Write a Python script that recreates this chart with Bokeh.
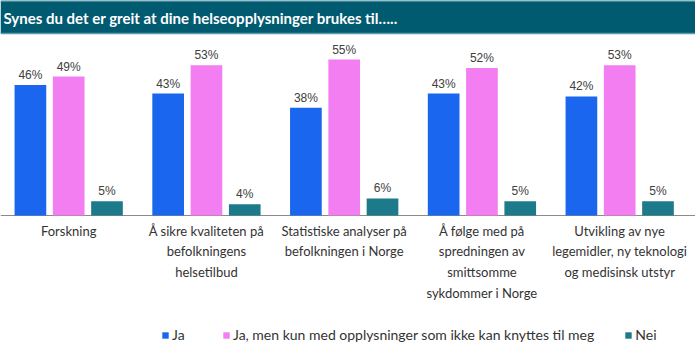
from bokeh.plotting import figure
from bokeh.models import ColumnDataSource, Range1d, Legend, LegendItem
from bokeh.core.properties import value
from bokeh.embed import file_html
from bokeh.resources import INLINE

# ---- data ----
title_text = "Synes du det er greit at dine helseopplysninger brukes til….."
categories = [
    "Forskning",
    "Å sikre kvaliteten på\nbefolkningens\nhelsetilbud",
    "Statistiske analyser på\nbefolkningen i Norge",
    "Å følge med på\nspredningen av\nsmittsomme\nsykdommer i Norge",
    "Utvikling av nye\nlegemidler, ny teknologi\nog medisinsk utstyr",
]
series_names = ["Ja", "Ja, men kun med opplysninger som ikke kan knyttes til meg", "Nei"]
ja = [46, 43, 38, 43, 42]
ja_men = [49, 53, 55, 52, 53]
nei = [5, 4, 6, 5, 5]
series_values = [ja, ja_men, nei]
colors = ["#1a66ee", "#f27ef2", "#1d7a8b"]

# ---- layout constants (pixels) ----
W, H = 695, 353
group_px = 137.75
first_center_px = 68.2
baseline_px = 215
ppu = 2.835  # px per percent
bar_w = 0.23
offsets = [-0.278, 0.0, 0.278]

x0 = -first_center_px / group_px
x1 = (W - first_center_px) / group_px
y0 = -(H - baseline_px) / ppu
y1 = baseline_px / ppu

p = figure(width=W, height=H, output_backend="svg", toolbar_location=None,
           x_range=Range1d(x0, x1), y_range=Range1d(y0, y1),
           x_axis_location=None, y_axis_location=None,
           min_border=0, min_border_left=0, min_border_right=0,
           min_border_top=0, min_border_bottom=0)
p.outline_line_color = None
p.grid.visible = False
p.background_fill_color = "white"
p.border_fill_color = "white"

# title bar
bar_h = 33 / ppu
p.quad(left=[x0], right=[x1], top=[y1], bottom=[y1 - bar_h],
       fill_color="#005a70", line_color=None)
p.segment(x0=[x0, x0], x1=[x1, x1], y0=[y1 - 0.2, y1 - bar_h],
          y1=[y1 - 0.2, y1 - bar_h], line_color="#5a9cab", line_width=1.5)
p.text(x=[x0 + 3 / group_px], y=[y1 - 17 / ppu], text=[title_text],
       text_color="white", text_font=value("Lato"), text_font_style="bold",
       text_font_size="15px", text_baseline="middle", text_align="left")

# baseline
p.segment(x0=[x0], x1=[x1], y0=[0], y1=[0], line_color="#8a8a8a", line_width=1)

xs = list(range(len(categories)))
renderers = []
for k, (name, vals) in enumerate(zip(series_names, series_values)):
    src = ColumnDataSource(dict(x=[i + offsets[k] for i in xs], top=vals,
                                lab=[f"{v}%" for v in vals]))
    r = p.vbar(x="x", top="top", bottom=0, width=bar_w, source=src,
               fill_color=colors[k], line_color=None)
    renderers.append(r)
    p.text(x="x", y="top", text="lab", source=src, text_align="center",
           text_baseline="bottom", y_offset=-3, text_font=value("Liberation Sans"),
           text_font_size="12px", text_color="#404040")

# category labels
p.text(x=xs, y=[-7 / ppu] * len(xs), text=categories, text_align="center",
       text_baseline="top", text_font=value("Lato"), text_font_size="13px",
       text_color="#333333", text_line_height=1.3)

legend = Legend(items=[LegendItem(label=n, renderers=[r]) for n, r in zip(series_names, renderers)],
                orientation="horizontal", location=(161, 10),
                glyph_width=8, glyph_height=8, label_standoff=3, spacing=30,
                label_height=8, padding=0, margin=0,
                label_text_font="Lato", label_text_font_size="14px",
                label_text_color="#333333",
                border_line_color=None, background_fill_alpha=0)
p.add_layout(legend)

open("out.html", "w").write(file_html(p, INLINE))
